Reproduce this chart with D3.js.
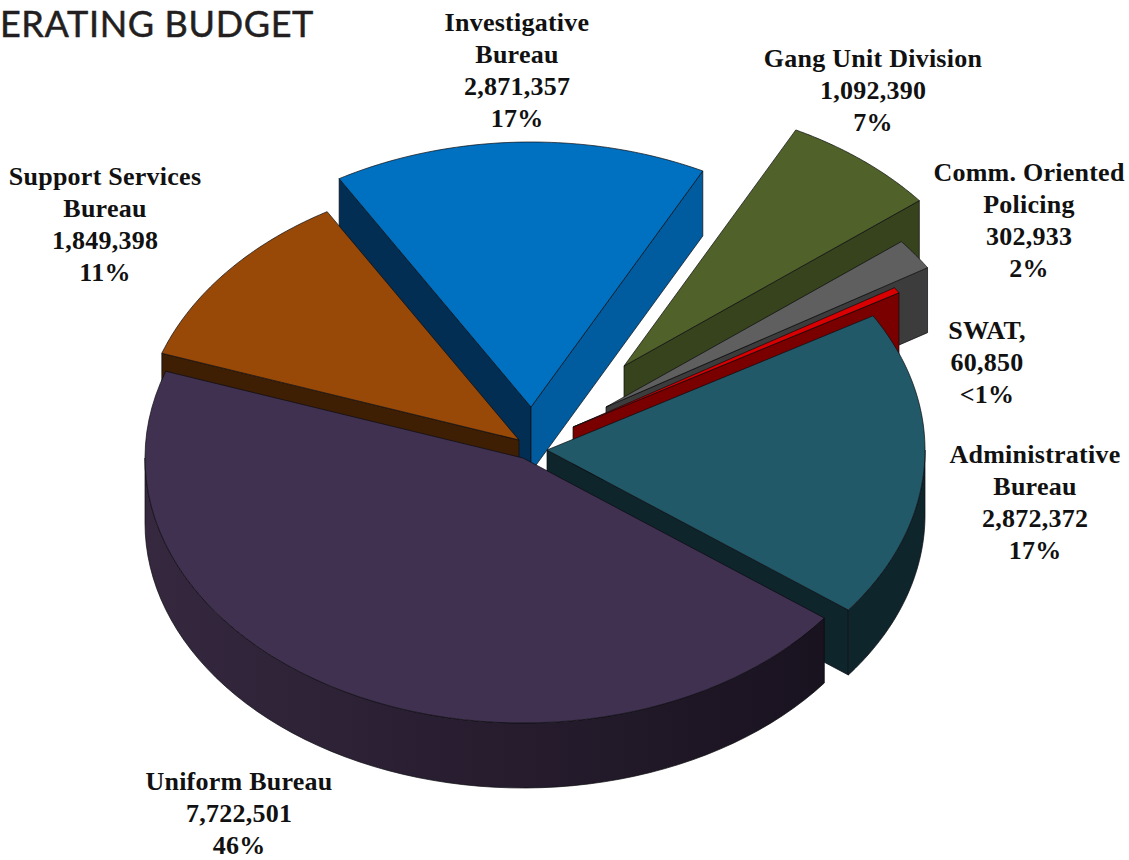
<!DOCTYPE html>
<html><head><meta charset="utf-8">
<style>html,body{margin:0;padding:0;background:#fff;overflow:hidden}svg{display:block}</style>
<script src="https://cdnjs.cloudflare.com/ajax/libs/d3/7.8.5/d3.min.js"></script>
</head><body><svg id="c" width="1129" height="860"></svg>
<script>
// data
const names = [["Investigative","Bureau"],["Gang Unit Division"],["Comm. Oriented","Policing"],["SWAT,"],["Administrative","Bureau"],["Uniform Bureau"],["Support Services","Bureau"]];
const values = [2871357,1092390,302933,60850,2872372,7722501,1849398];
const percents = ["17%","7%","2%","<1%","17%","46%","11%"];
const title = "ERATING BUDGET";
// style
const topColors = ["#0070c0","#50622a","#5f5f5f","#d80000","#215968","#403151","#984807"];
const startFace = ["#012e52","#36431c","#3c3c3c","#7a0000","#0f252c","#1a1320","#3f1f04"];
const endFace = ["#005c9e","#36431c","#3c3c3c","#7a0000","#0f252c","#1a1320","#3f1f04"];
const wallLeft = ["#005c9e","#36431c","#3c3c3c","#7a0000","#0f252c","#35283f","#4a2504"];
const wallRight = ["#005c9e","#36431c","#3c3c3c","#7a0000","#0f252c","#19121f","#3f1f04"];
// layout
const cx=523, cy=458, rx=378, ry=265, depth=65;
const offX=[8,101,83,50,24,0,-4], offY=[-51,-92,-51,-31,-8,0,-18];
const boundaryFix=[0,-4.1,-3.2,-2.8,-2.8,3.1,-0.7,0];
const labelX=[517,873,1029,987,1035,239,105], labelY=[31,67,181,339,463,790,185], lineGap=32;
const paintOrder=[1,2,3,0,4,6,5];

const svg=d3.select("#c"), defs=svg.append("defs");
const rad=d=>d*Math.PI/180;
const pie=d3.pie().sort(null).value(d=>d).startAngle(rad(-30.5)).endAngle(rad(329.5));
const arcs=pie(values).map((a,i)=>({i,a0:a.startAngle+rad(boundaryFix[i]),a1:a.endAngle+rad(boundaryFix[i+1])}));
const pt=(i,t,dz=0)=>[cx+offX[i]+rx*Math.sin(t), cy+offY[i]-ry*Math.cos(t)+dz];
const apex=(i,dz=0)=>[cx+offX[i], cy+offY[i]+dz];
const samples=(a,b)=>d3.range(0,61).map(k=>a+(b-a)*k/60);
const line=d3.line();
const stroke="#0b0b10";
paintOrder.forEach(i=>{
  const s=arcs[i], g=svg.append("g").attr("class","slice");
  const face=(t,fill)=>g.append("path").attr("d",line([apex(i),pt(i,t),pt(i,t,depth),apex(i,depth)])+"Z")
     .attr("fill",fill).attr("stroke",stroke).attr("stroke-width",.7).attr("stroke-linejoin","round");
  if(Math.sin(s.a0)<0) face(s.a0,startFace[i]);
  if(Math.sin(s.a1)>0) face(s.a1,endFace[i]);
  const w0=Math.max(s.a0,rad(90)), w1=Math.min(s.a1,rad(270));
  if(w1>w0){
    const top=samples(w0,w1).map(t=>pt(i,t)), bot=samples(w0,w1).map(t=>pt(i,t,depth)).reverse();
    const xs=top.map(p=>p[0]);
    const gid="wall"+i;
    const lg=defs.append("linearGradient").attr("id",gid).attr("gradientUnits","userSpaceOnUse")
      .attr("x1",d3.min(xs)).attr("x2",d3.max(xs)).attr("y1",0).attr("y2",0);
    lg.append("stop").attr("offset",0).attr("stop-color",wallLeft[i]);
    lg.append("stop").attr("offset",1).attr("stop-color",wallRight[i]);
    g.append("path").attr("d",line(top.concat(bot))+"Z").attr("fill",`url(#${gid})`)
     .attr("stroke",stroke).attr("stroke-width",.7);
  }
  g.append("path").attr("d",line([apex(i)].concat(samples(s.a0,s.a1).map(t=>pt(i,t))))+"Z")
   .attr("fill",topColors[i]).attr("stroke",stroke).attr("stroke-width",.7).attr("stroke-linejoin","round");
});
const fmt=d3.format(",");
names.forEach((n,i)=>{
  const lines=n.concat([fmt(values[i]),percents[i]]);
  svg.append("text").attr("class","label").attr("text-anchor","middle")
    .style("font-family","'Liberation Serif',serif").style("font-weight",700).style("font-size","26px").style("letter-spacing","0.25px").attr("fill","#111")
    .selectAll("tspan").data(lines).join("tspan")
    .attr("x",labelX[i]).attr("y",(d,k)=>labelY[i]+k*lineGap).text(d=>d);
});
svg.append("text").attr("x",314).attr("y",37).attr("text-anchor","end")
  .style("font-family","Lato,sans-serif").style("font-size","36px").style("font-weight",400).style("letter-spacing","0.65px")
  .attr("fill","#231f20").attr("stroke","#231f20").attr("stroke-width",.5).text(title);
</script></body></html>
